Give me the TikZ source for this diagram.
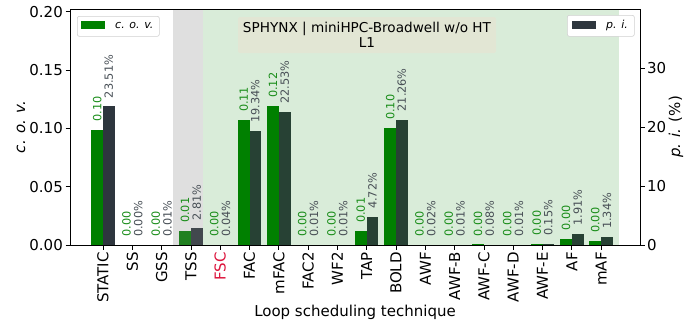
\documentclass[tikz,border=0pt]{standalone}
\usepackage{fontspec}
\setmainfont{DejaVu Sans}
\begin{document}
\definecolor{cgreen}{HTML}{008000}
\definecolor{cdark}{HTML}{2E363E}
\definecolor{cfsc}{HTML}{DC143C}
\definecolor{titlebg}{HTML}{E2E6D4}
\definecolor{legedge}{HTML}{D0D0D0}
\begin{tikzpicture}[x=1pt,y=-1pt,
  vlab/.style={rotate=90,anchor=west,inner sep=0pt,font=\fontsize{11.3}{11.3}\selectfont},
  tlab/.style={rotate=90,anchor=east,inner sep=0pt,font=\fontsize{15}{15}\selectfont},
  ylab/.style={inner sep=0pt,font=\fontsize{15}{15}\selectfont},
  axlab/.style={inner sep=0pt,font=\fontsize{15}{15}\selectfont},
  legbox/.style={draw=legedge,fill=white,rounded corners=2pt,inner sep=0pt,anchor=north west,line width=0.6pt},
  tickline/.style={line width=0.8pt}]
\useasboundingbox (0,0) rectangle (693,322);
% bars
\foreach \lab/\c/\p/\cl/\col [count=\i from 0] in {
 STATIC/0.0986/23.51/0.10/black,
 SS/0.0002/0.00/0.00/black,
 GSS/0.0002/0.01/0.00/black,
 TSS/0.012/2.81/0.01/black,
 FSC/0.0003/0.04/0.00/cfsc,
 FAC/0.107/19.34/0.11/black,
 mFAC/0.119/22.53/0.12/black,
 FAC2/0.0002/0.01/0.00/black,
 WF2/0.0002/0.01/0.00/black,
 TAP/0.012/4.72/0.01/black,
 BOLD/0.1003/21.26/0.10/black,
 AWF/0.0002/0.02/0.00/black,
 AWF-B/0.0002/0.01/0.00/black,
 AWF-C/0.0005/0.08/0.00/black,
 AWF-D/0.0002/0.01/0.00/black,
 AWF-E/0.0008/0.15/0.00/black,
 AF/0.0052/1.91/0.00/black,
 mAF/0.0034/1.34/0.00/black}{
  \pgfmathsetmacro\xc{103+29.3*\i}
  \pgfmathsetmacro\yc{245-\c*1166.7}
  \pgfmathsetmacro\yp{245-\p*5.9}
  \fill[cgreen] (\xc-11.7,245) rectangle (\xc,\yc);
  \fill[cdark] (\xc,245) rectangle (\xc+11.7,\yp);
}
% shaded spans
\fill[gray,opacity=0.25] (173,9) rectangle (203,245);
\fill[cgreen,opacity=0.15] (203,9) rectangle (619,245);
% labels
\foreach \lab/\c/\p/\cl/\col [count=\i from 0] in {
 STATIC/0.0986/23.51/0.10/black,
 SS/0.0002/0.00/0.00/black,
 GSS/0.0002/0.01/0.00/black,
 TSS/0.012/2.81/0.01/black,
 FSC/0.0003/0.04/0.00/cfsc,
 FAC/0.107/19.34/0.11/black,
 mFAC/0.119/22.53/0.12/black,
 FAC2/0.0002/0.01/0.00/black,
 WF2/0.0002/0.01/0.00/black,
 TAP/0.012/4.72/0.01/black,
 BOLD/0.1003/21.26/0.10/black,
 AWF/0.0002/0.02/0.00/black,
 AWF-B/0.0002/0.01/0.00/black,
 AWF-C/0.0005/0.08/0.00/black,
 AWF-D/0.0002/0.01/0.00/black,
 AWF-E/0.0008/0.15/0.00/black,
 AF/0.0052/1.91/0.00/black,
 mAF/0.0034/1.34/0.00/black}{
  \pgfmathsetmacro\xc{103+29.3*\i}
  \pgfmathsetmacro\yc{245-\c*1166.7}
  \pgfmathsetmacro\yp{245-\p*5.9}
  \node[vlab,text=cgreen!90!white] (cv\i) at (\xc-5.85,\yc-8) {\cl};
  \node[vlab,text=cdark!88!white] (pv\i) at (\xc+5.85,\yp-8) {\p\%};
  \draw[tickline] (\xc,245) -- (\xc,249.5);
  \node[tlab,text=\col] (tl\i) at (\xc,252) {\lab};
}
% axes frame
\draw[line width=0.9pt] (70,9) rectangle (640,245);
% left ticks
\foreach \v [count=\k from 0] in {0.00,0.05,0.10,0.15,0.20}{
  \pgfmathsetmacro\yy{245-\k*58.33}
  \draw[tickline] (65.5,\yy) -- (70,\yy);
  \node[ylab,anchor=east] (yl\k) at (63,\yy) {\v};
}
% right ticks
\foreach \v [count=\k from 0] in {0,10,20,30}{
  \pgfmathsetmacro\yy{245-\k*59}
  \draw[tickline] (640,\yy) -- (644.5,\yy);
  \node[ylab,anchor=west] (yr\k) at (647,\yy) {\v};
}
% axis labels
\node[axlab,rotate=90] (ylabL) at (21,127) {\itshape c. o. v.};
\node[axlab,rotate=90] (ylabR) at (676,127) {{\itshape p. i.} (\%)};
\node[axlab] (xlab) at (355,312) {Loop scheduling technique};
% title
\node[fill=titlebg,rounded corners=2pt,minimum width=258pt,minimum height=36pt,inner sep=0pt] (titlebox) at (367,35) {};
\node[align=center,inner sep=0pt,font=\fontsize{13.6}{15}\selectfont] (title) at (367,34.5) {SPHYNX | miniHPC-Broadwell w/o HT\\L1};
% legends
\node[legbox,minimum width=82pt,minimum height=20pt] (leg1) at (77,16) {};
\fill[cgreen] (81,21) rectangle (105,29);
\node[inner sep=0pt,anchor=west,font=\fontsize{11}{11}\selectfont\itshape] (leg1t) at (115,25) {c. o. v.};
\node[legbox,minimum width=67pt,minimum height=21pt] (leg2) at (567,15) {};
\fill[cdark] (572,21) rectangle (596,29);
\node[inner sep=0pt,anchor=west,font=\fontsize{11}{11}\selectfont\itshape] (leg2t) at (606,25) {p. i.};
\end{tikzpicture}
\end{document}
